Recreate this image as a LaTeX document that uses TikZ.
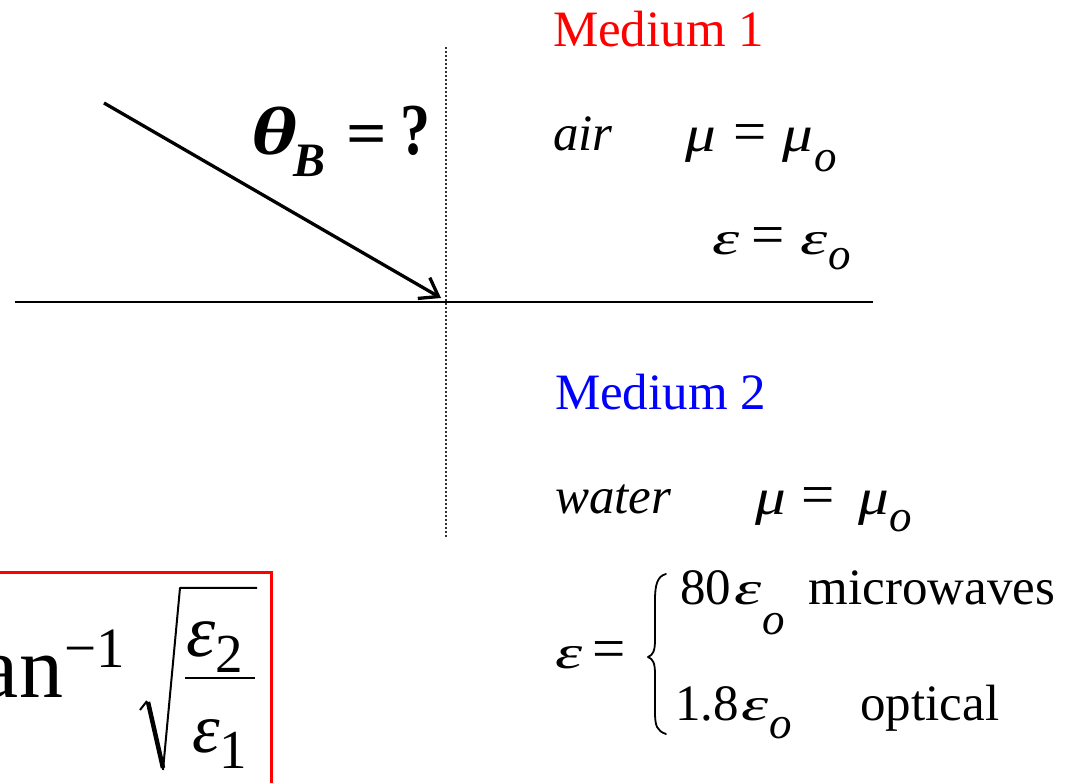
\documentclass[tikz,border=0pt]{standalone}
\usepackage{fontspec}
\usepackage{graphicx}
\setmainfont{Liberation Serif}
\usetikzlibrary{arrows.meta}
\newcommand{\bigeqsign}{{\fontsize{59}{59}\selectfont\upshape =}}
\newcommand{\gmu}{\scalebox{1.2}[1]{\itshape μ}}
\newcommand{\gep}{\scalebox{1.15}[0.78]{\fontsize{60}{60}\selectfont\itshape ε}}
\newcommand{\subo}[1]{\raisebox{-#1}{\fontsize{45}{45}\selectfont\itshape o}}
\begin{document}
\begin{tikzpicture}[x=1pt,y=-1pt,
  every node/.style={inner sep=0pt,outer sep=0pt,anchor=base west},
  txt/.style={font=\fontsize{51}{60}\selectfont},
  big/.style={font=\fontsize{88}{96}\selectfont},
  rule/.style={line width=2.8pt,black},
  dotline/.style={line width=1.6pt,dash pattern=on 1.6pt off 2.4pt,black!80},
  ray/.style={line width=3.3pt,-{Straight Barb[length=17pt,width=24pt,line width=3.3pt]}},
  frame/.style={draw=red,line width=3pt},
  stroke/.style={line width=1.8pt,line cap=round,line join=round}]
\useasboundingbox (0,0) rectangle (1072,783);
\clip (0,0) rectangle (1072,783);
% interface and normal
\coordinate (hl) at (15,302);
\coordinate (hr) at (873,302);
\coordinate (vt) at (446,47);
\coordinate (vb) at (446,537);
\draw[rule] (hl) -- (hr);
\draw[dotline] (vt) -- (vb);
% incident ray
\coordinate (as) at (104,103);
\coordinate (ae) at (441,298);
\draw[ray] (as) -- (ae);
% theta_B = ?
\node[font=\fontsize{68}{68}\selectfont\bfseries] (tb) at (251,155)
  {\scalebox{1.3}[1]{\itshape θ}\hspace{-3pt}\raisebox{-22pt}{\fontsize{48}{48}\selectfont\itshape B}\hspace{21pt}\scalebox{1.15}[1]{\fontsize{62}{62}\selectfont =}\hspace{13pt}\scalebox{1}[1.22]{\fontsize{60}{60}\selectfont ?}};
% Medium 1
\node[txt,text=red] (m1) at (553,47) {Medium 1};
\node[txt] (air) at (553,151) {\itshape air};
\node[txt] (mu1) at (685,152) {\gmu\hspace{18pt}\bigeqsign\hspace{16pt}\gmu\hspace{1pt}\subo{20pt}};
\node[txt] (ep1) at (712,255) {\gep\hspace{12pt}\bigeqsign\hspace{16pt}\gep\hspace{1pt}\subo{15pt}};
% Medium 2
\node[txt,text=blue] (m2) at (555,410) {Medium 2};
\node[txt] (wat) at (555,514) {\itshape water};
\node[txt] (mu2) at (755,515) {\gmu\hspace{16pt}\bigeqsign\hspace{24pt}\gmu\hspace{0pt}\subo{17pt}};
% epsilon cases
\node[txt] (ep2) at (555,668) {\gep\hspace{10pt}\bigeqsign};
\draw[stroke] (666,574) .. controls (657,576) and (655,586) .. (655,600)
  -- (655,640) .. controls (655,651) and (653,655) .. (648,657)
  .. controls (653,659) and (655,663) .. (655,674)
  -- (655,712) .. controls (655,726) and (657,731) .. (666,734);
\node[txt] (c1) at (680,605) {80\hspace{3pt}\gep\hspace{1pt}\subo{30pt}\hspace{24pt}microwaves};
\node[txt] (c2) at (675,720) {1.8\hspace{3pt}\gep\hspace{1pt}\subo{18pt}\hspace{68pt}optical};
% boxed result
\draw[frame] (-20,573) rectangle (271,786);
\node[big,anchor=base east] (an) at (63,697) {an};
\node[font=\fontsize{57}{60}\selectfont] (inv) at (64,667) {−1};
\draw[line width=2pt,line join=round] (140,710) -- (147,701);
\draw[line width=4.5pt,line join=round] (148,702) -- (163,768);
\draw[line width=2pt,line join=round] (163,770) -- (180,588) -- (257,588);
\node[font=\fontsize{74}{96}\selectfont\itshape] (num) at (186,656)
  {ε\raisebox{-16pt}{\fontsize{55}{55}\selectfont\upshape 2}};
\draw[line width=1.5pt] (185,678) -- (255,678);
\node[font=\fontsize{70}{80}\selectfont\itshape] (den) at (192,752)
  {ε\raisebox{-16pt}{\fontsize{55}{55}\selectfont\upshape 1}};
\end{tikzpicture}
\end{document}
